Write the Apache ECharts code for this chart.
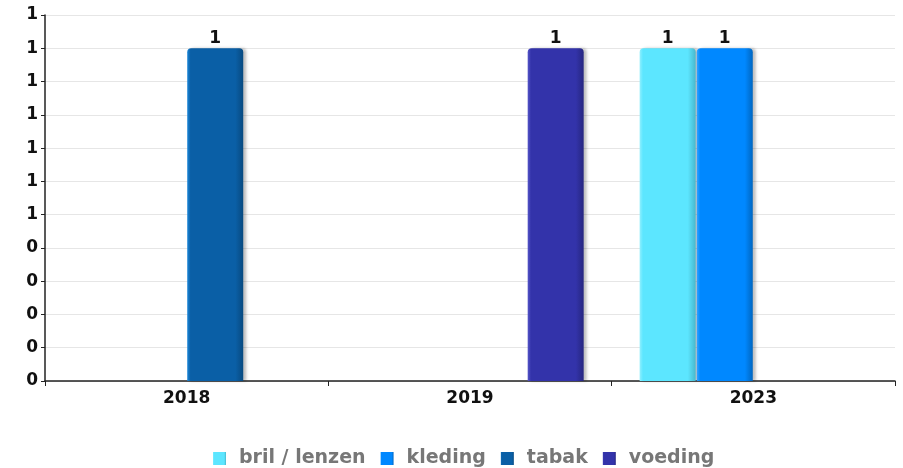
<!DOCTYPE html>
<html>
<head>
<meta charset="utf-8">
<script src="https://cdn.jsdelivr.net/npm/echarts@6/dist/echarts.min.js"></script>
<style>
  html, body { margin: 0; padding: 0; background: #fff; }
  #chart { width: 903px; height: 468px; }
</style>
</head>
<body>
<div id="chart"></div>
<script>
// Years on the category axis
const years = ['2018', '2019', '2023'];

// Counts per year for each category (null = no entry)
const brilLenzen = [null, null, 1];
const kleding    = [null, null, 1];
const tabak      = [1, null, null];
const voeding    = [null, 1, null];

const seriesNames = ['bril / lenzen', 'kleding', 'tabak', 'voeding'];
const seriesValues = [brilLenzen, kleding, tabak, voeding];
const seriesColors = [
  { base: '#5ce6ff', light: '#8ff0ff', dark: '#48b8cc' },
  { base: '#0088ff', light: '#33a3ff', dark: '#0066c0' },
  { base: '#0a5fa6', light: '#1a86d8', dark: '#084a80' },
  { base: '#3333aa', light: '#5555c8', dark: '#262680' }
];

function barFill(c) {
  return new echarts.graphic.LinearGradient(0, 0, 1, 0, [
    { offset: 0, color: c.light },
    { offset: 0.06, color: c.base },
    { offset: 0.86, color: c.base },
    { offset: 1, color: c.dark }
  ]);
}

const chart = echarts.init(document.getElementById('chart'), null, { renderer: 'canvas' });

const font = 'DejaVu Sans';

chart.setOption({
  animation: false,
  backgroundColor: '#ffffff',
  textStyle: { fontFamily: font },
  grid: { left: 45, right: 8, top: 15, bottom: 87, containLabel: false },
  legend: {
    top: 444,
    left: 208,
    icon: 'rect',
    itemWidth: 13,
    itemHeight: 13,
    itemGap: 15,
    textStyle: {
      color: '#777777', fontWeight: 'bold', fontSize: 19, fontFamily: font,
      padding: [0, 0, 0, 8]
    },
    data: seriesNames
  },
  xAxis: {
    type: 'category',
    data: years,
    axisLine: { show: true, lineStyle: { color: '#222', width: 1.5 } },
    axisTick: { show: true, alignWithLabel: false, length: 5, lineStyle: { color: '#222' } },
    axisLabel: { color: '#111', fontWeight: 'bold', fontSize: 17, margin: 9, fontFamily: font },
    splitLine: { show: false }
  },
  yAxis: {
    type: 'value',
    min: 0,
    max: 1.1,
    interval: 0.1,
    axisLine: { show: true, lineStyle: { color: '#222', width: 1.5 } },
    axisTick: { show: true, length: 4, lineStyle: { color: '#222' } },
    axisLabel: {
      color: '#111', fontWeight: 'bold', fontSize: 17, margin: 7, fontFamily: font,
      formatter: v => String(Math.round(v))
    },
    splitLine: { show: true, lineStyle: { color: '#e6e6e6', width: 1 } }
  },
  series: seriesNames.map((name, i) => ({
    name,
    type: 'bar',
    data: seriesValues[i],
    barWidth: 56,
    barGap: '2%',
    color: seriesColors[i].base,
    itemStyle: {
      color: barFill(seriesColors[i]),
      borderRadius: [4, 4, 0, 0],
      shadowColor: 'rgba(0,0,0,0.25)',
      shadowBlur: 3,
      shadowOffsetX: 3
    },
    label: {
      show: true,
      position: 'top',
      distance: 1,
      color: '#111',
      fontWeight: 'bold',
      fontSize: 17,
      fontFamily: font,
      formatter: p => String(Math.round(p.value))
    }
  }))
});
</script>
</body>
</html>
